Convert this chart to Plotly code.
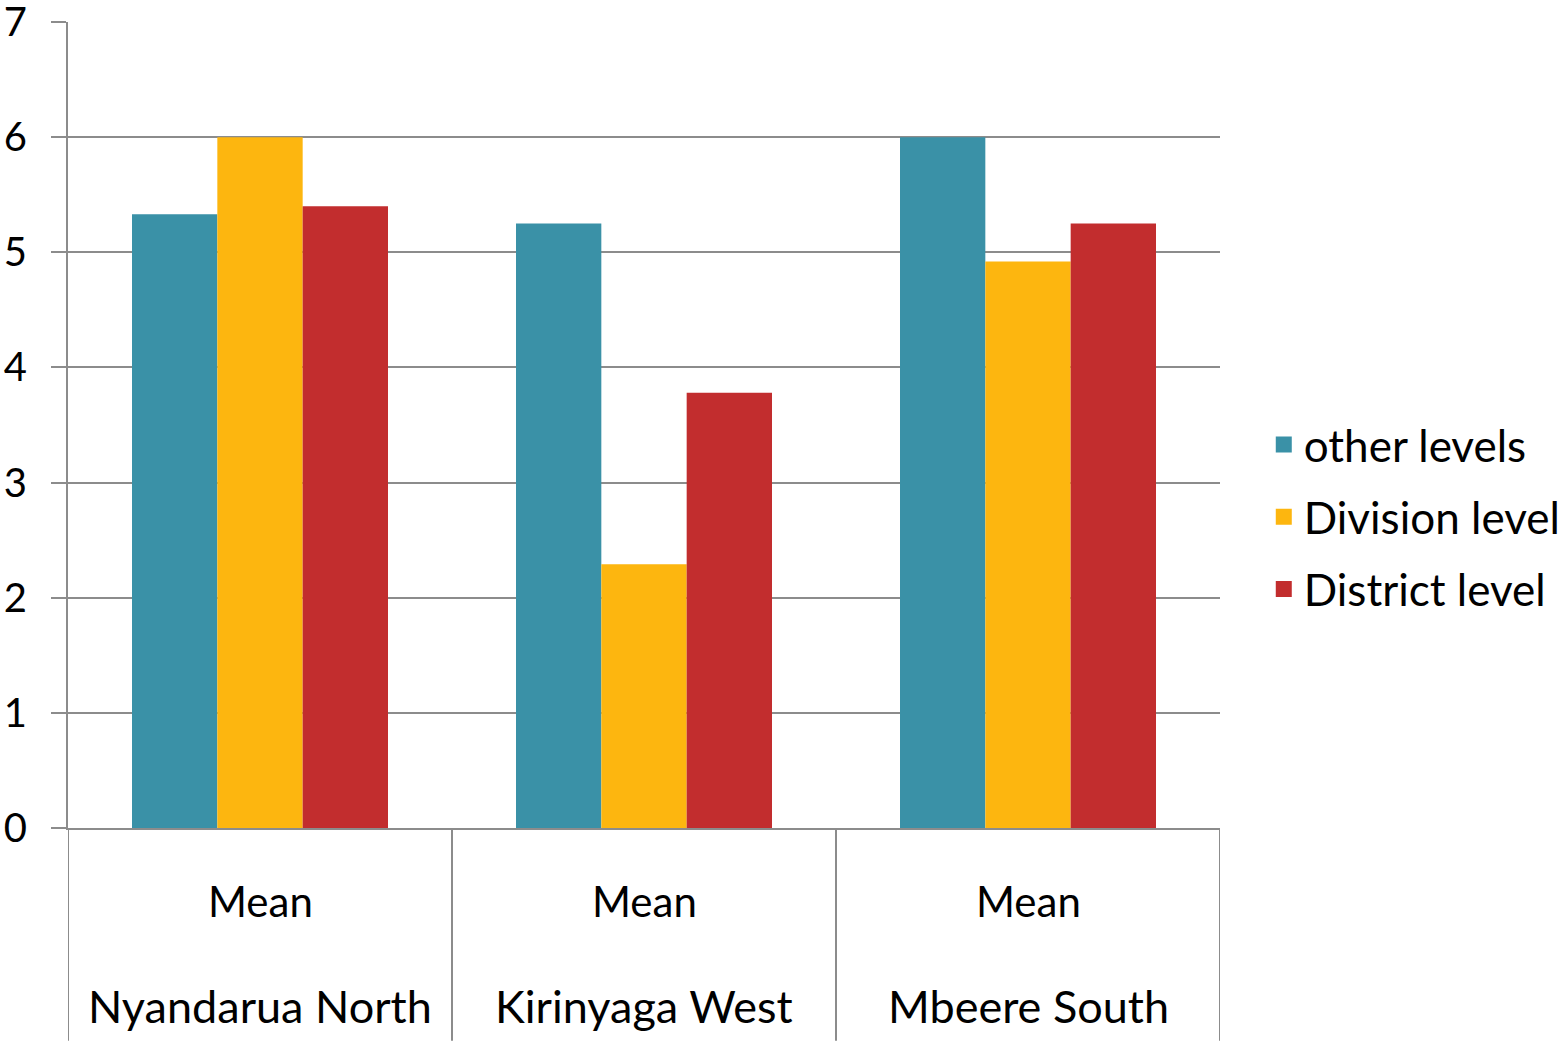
"""Grouped bar chart: mean scores by level for three districts."""

import plotly.graph_objects as go

DISTRICTS = ["Nyandarua North", "Kirinyaga West", "Mbeere South"]
STAT_LABEL = "Mean"
SERIES_NAMES = ["other levels", "Division level", "District level"]
OTHER_LEVELS = [5.33, 5.25, 6.0]
DIVISION_LEVEL = [6.0, 2.29, 4.92]
DISTRICT_LEVEL = [5.4, 3.78, 5.25]
Y_TICKS = [0, 1, 2, 3, 4, 5, 6, 7]

COLORS = ["#3A91A7", "#FDB60F", "#C22D2E"]
GRID = "#8C8C8C"
FONT = "Lato"

fig = go.Figure()
for name, values, color in zip(
    SERIES_NAMES, [OTHER_LEVELS, DIVISION_LEVEL, DISTRICT_LEVEL], COLORS
):
    fig.add_trace(
        go.Bar(
            x=DISTRICTS,
            y=values,
            name=name,
            marker=dict(color=color, line=dict(width=0)),
            showlegend=False,
        )
    )
    # legend proxy with a bigger square swatch
    fig.add_trace(
        go.Scatter(
            x=[None],
            y=[None],
            mode="markers",
            name=name,
            legendgroup=name,
            marker=dict(symbol="square", size=25, color=color),
        )
    )

fig.update_layout(
    width=1564,
    height=1042,
    barmode="group",
    bargap=1 / 3,
    bargroupgap=0,
    paper_bgcolor="white",
    plot_bgcolor="white",
    font=dict(family=FONT, color="black", size=40),
    margin=dict(l=68, r=344, t=22, b=214, autoexpand=False),
    legend=dict(
        x=1.038,
        xanchor="left",
        y=0.386,
        yanchor="middle",
        font=dict(size=44, family=FONT),
        itemsizing="trace",
        tracegroupgap=12,
        bgcolor="rgba(0,0,0,0)",
    ),
)
fig.update_xaxes(
    range=[-0.5, 2.5],
    showticklabels=False,
    ticks="",
    showgrid=False,
    showline=True,
    linecolor=GRID,
    linewidth=2,
    zeroline=False,
    automargin=False,
)
fig.update_yaxes(
    range=[0, 7],
    tickvals=Y_TICKS,
    ticktext=[str(v) for v in Y_TICKS],
    ticks="outside",
    ticklen=15,
    tickwidth=2,
    tickcolor=GRID,
    showgrid=True,
    gridcolor=GRID,
    gridwidth=2,
    showline=True,
    linecolor=GRID,
    linewidth=2,
    zeroline=False,
    tickfont=dict(size=40, family=FONT),
    ticklabelstandoff=16,
    ticklabeloverflow="allow",
    automargin=False,
)

# two-level category labels under the axis
for i, district in enumerate(DISTRICTS):
    fig.add_annotation(
        x=i, y=-0.0906, xref="x", yref="paper", text=STAT_LABEL,
        showarrow=False, yanchor="middle", font=dict(size=42),
    )
    fig.add_annotation(
        x=i, y=-0.221, xref="x", yref="paper", text=district,
        showarrow=False, yanchor="middle", font=dict(size=45),
    )

# category dividers
for k in range(len(DISTRICTS) + 1):
    fig.add_shape(
        type="line", xref="x", yref="paper",
        x0=k - 0.5, x1=k - 0.5, y0=0, y1=-0.264,
        line=dict(color=GRID, width=2),
    )

fig.write_html(
    "out.html",
    config={"displayModeBar": False},
    post_script="document.body.style.margin='0';",
)
